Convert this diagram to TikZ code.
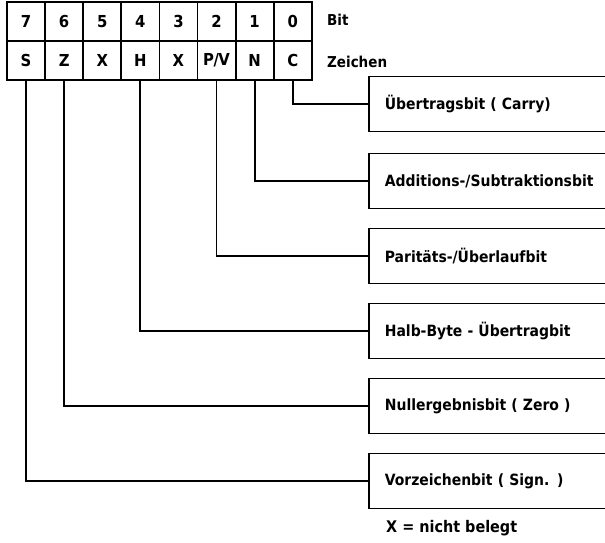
\documentclass[tikz,border=0pt]{standalone}
\usepackage{fontspec}
\setmainfont{DejaVu Sans Condensed}
\usetikzlibrary{positioning}

\tikzset{
  cell/.style={draw, line width=1.8pt, minimum width=38.1pt, minimum height=39pt,
    inner sep=0pt, font=\bfseries\fontsize{16.5}{19}\selectfont},
  flagbox/.style={draw, line width=1.8pt, anchor=west, minimum height=55pt,
    text width=290pt, inner xsep=16pt, align=left,
    font=\bfseries\fontsize{15.5}{18}\selectfont},
  caption/.style={anchor=west, inner sep=0pt, font=\bfseries\fontsize{15}{18}\selectfont},
  wire/.style={line width=1.8pt}
}

\begin{document}
\begin{tikzpicture}[x=1pt,y=-1pt]
\useasboundingbox (0,0) rectangle (605,542);
\clip (0,0) rectangle (605,542);
% register
\foreach \b/\s [count=\i from 0] in {7/S,6/Z,5/X,4/H,3/X,2/{P\kern-.5pt/\kern-.5pt V},1/N,0/C}
{
  \node[cell] (bit\b) at (26.05+38.1*\i,21.5) {\b};
  \node[cell] (sym\b) at (26.05+38.1*\i,60.5) {\s};
}
\node[caption] (bitlabel) at (327,20) {Bit};
\node[caption] (symlabel) at (327,62) {Zeichen};
% flag boxes
\node[flagbox] (carry)     at (368,104) {Übertragsbit ( Carry)};
\node[flagbox] (addsub)    at (368,181) {Additions-/Subtraktionsbit};
\node[flagbox] (parity)    at (368,256) {Paritäts-/Überlaufbit};
\node[flagbox] (halfcarry) at (368,331) {Halb-Byte - Übertragbit};
\node[flagbox] (zero)      at (368,406) {Nullergebnisbit ( Zero )};
\node[flagbox] (sign)      at (368,481) {Vorzeichenbit ( Sign. )};
\node[caption, font=\bfseries\fontsize{16}{19}\selectfont] (note) at (386,528) {X = nicht belegt};
% wires
\draw[wire] (sym0.south) |- (carry.west);
\draw[wire] (sym1.south) |- (addsub.west);
\draw[wire] (sym2.south) |- (parity.west);
\draw[wire] (sym4.south) |- (halfcarry.west);
\draw[wire] (sym6.south) |- (zero.west);
\draw[wire] (sym7.south) |- (sign.west);
\end{tikzpicture}
\end{document}
